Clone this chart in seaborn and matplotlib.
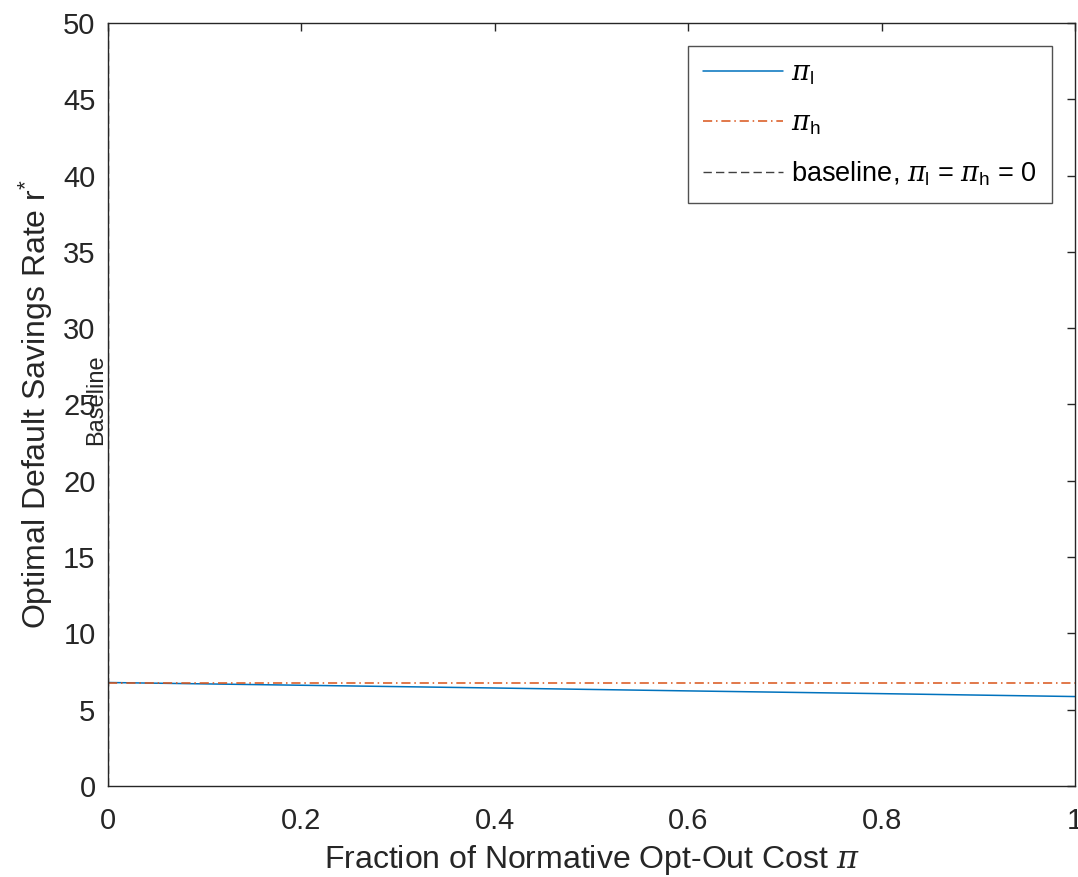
import numpy as np
import pandas as pd
import matplotlib
matplotlib.use("Agg")
import matplotlib.pyplot as plt
import seaborn as sns

# Data
pi_frac = [0.0, 0.2, 0.4, 0.6, 0.8, 1.0]
r_low = [6.78, 6.60, 6.42, 6.23, 6.05, 5.86]
r_high = [6.78, 6.78, 6.78, 6.78, 6.78, 6.78]
baseline_x = 0.0
labels = [r"$\pi_{\mathrm{l}}$", r"$\pi_{\mathrm{h}}$", r"baseline, $\pi_{\mathrm{l}}$ = $\pi_{\mathrm{h}}$ = 0"]
x_ticks = [0, 0.2, 0.4, 0.6, 0.8, 1]
x_tick_labels = ["0", "0.2", "0.4", "0.6", "0.8", "1"]
y_ticks = list(range(0, 55, 5))

sns.set_theme(style="white")
plt.rcParams["font.family"] = ["Liberation Sans", "DejaVu Sans"]
plt.rcParams["mathtext.fontset"] = "custom"
plt.rcParams["mathtext.rm"] = "Liberation Sans"
plt.rcParams["mathtext.it"] = "DejaVu Serif:italic"
plt.rcParams["mathtext.bf"] = "Liberation Sans:bold"

df = pd.DataFrame({"x": pi_frac, "low": r_low, "high": r_high})

fig = plt.figure(figsize=(10.78, 8.77), dpi=100)
ax = fig.add_axes([0.1002, 0.1038, 0.8970, 0.8700])

dark = "#262626"
sns.lineplot(data=df, x="x", y="low", ax=ax, color="#0072BD", linewidth=1.1, label=labels[0])
sns.lineplot(data=df, x="x", y="high", ax=ax, color="#D95319", linewidth=1.1,
             linestyle=(0, (6, 2.5, 1, 2.5)), label=labels[1])
ax.axvline(baseline_x, color="#404040", linestyle=(0, (6, 3)), linewidth=1.0, label=labels[2])
ax.text(baseline_x - 0.001, 25.3, "Baseline", rotation=90, ha="right", va="center",
        fontsize=17, color=dark)

ax.set_xlim(0, 1)
ax.set_ylim(0, 50)
ax.set_xticks(x_ticks)
ax.set_xticklabels(x_tick_labels)
ax.set_yticks(y_ticks)
ax.tick_params(direction="in", length=6, width=1, colors=dark, labelsize=21,
               top=True, right=True)
ax.tick_params(axis="x", pad=15)
ax.tick_params(axis="y", pad=9)
for s in ax.spines.values():
    s.set_visible(True)
    s.set_color(dark)
    s.set_linewidth(1.0)

ax.set_xlabel(r"Fraction of Normative Opt-Out Cost $\pi$", fontsize=23, color=dark, labelpad=6)
ax.set_ylabel(r"Optimal Default Savings Rate r$^{*}$", fontsize=23, color=dark, labelpad=6)

leg = ax.legend(loc="upper right", bbox_to_anchor=(0.976, 0.970), borderaxespad=0,
                fontsize=19.5, handlelength=2.95, labelspacing=0.84, frameon=True,
                fancybox=False, edgecolor=dark, handletextpad=0.3, borderpad=0.55)
leg.get_frame().set_linewidth(1.0)
for t in leg.get_texts():
    t.set_color("black")

fig.savefig("out.png", dpi=100, facecolor="white")
